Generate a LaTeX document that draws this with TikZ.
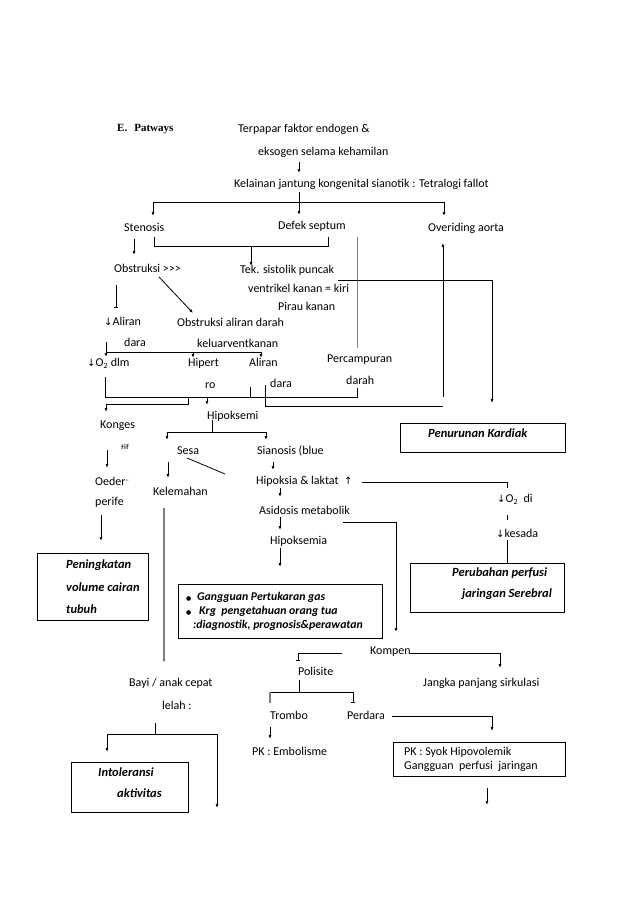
\documentclass[tikz,border=0pt]{standalone}
\usepackage{fontspec}
\setmainfont{Carlito}
\newfontfamily\symf{DejaVu Sans}
\newfontfamily\titlef{Liberation Serif}
\usetikzlibrary{arrows.meta}
\begin{document}
\begin{tikzpicture}[x=1pt,y=-1pt,
  txt/.style={anchor=west,inner sep=0pt,font=\fontsize{12}{13}\selectfont,text height=7.5pt,text depth=2pt},
  bx/.style={txt,font=\fontsize{12.5}{13}\selectfont\bfseries\itshape},
  gx/.style={txt,font=\fontsize{11.8}{13}\selectfont\bfseries\itshape},
  ln/.style={line width=0.8pt},
  ar/.style={ln,-{Latex[length=4pt,width=3pt]}},
  tee/.style={ln,-{Bar[width=4pt,line width=0.8pt]}},
  frame/.style={draw,line width=0.8pt,anchor=north west,inner sep=0pt}]
\useasboundingbox (0,0) rectangle (638,903);
\fill[white] (0,0) rectangle (638,903);
\newcommand{\dn}{{\symf\fontsize{10}{11}\selectfont ↓}}
% title
\node[txt,font=\titlef\bfseries\fontsize{11}{12}\selectfont] (title) at (117,129) {E.\hspace{7pt}Patways};
% texts
\node[txt] (n1) at (238,130) {Terpapar faktor endogen \&};
\node[txt] (n2) at (258,153) {eksogen selama kehamilan};
\node[txt] (n3) at (234,185) {Kelainan jantung kongenital sianotik : Tetralogi fallot};
\node[txt] (sten) at (124,229) {Stenosis};
\node[txt] (defek) at (278,227) {Defek septum};
\node[txt] (over) at (428,229) {Overiding aorta};
\node[txt] (obs) at (114,270) {Obstruksi >{}>{}>};
\node[txt] (tek) at (240,271) {Tek. sistolik puncak};
\node[txt] (vent) at (248,290) {ventrikel kanan = kiri};
\node[txt] (pirau) at (278,308) {Pirau kanan};
\node[txt] (aliran1) at (104,323) {\dn Aliran};
\node[txt] (dara1) at (124,344) {dara};
\node[txt] (obs2) at (177,324) {Obstruksi aliran darah};
\begin{scope}
\clip (190,330) rectangle (300,348.5);
\node[txt] (kel) at (197,345) {keluarventkanan};
\end{scope}
\node[txt] (o2) at (87,364) {\dn O\textsubscript{2} dlm};
\node[txt] (hipert) at (188,364) {Hipert};
\node[txt] (aliran2) at (249,364) {Aliran};
\node[txt] (perc) at (327,360) {Percampuran};
\node[txt] (ro) at (205,386) {ro};
\node[txt] (dara2) at (270,385) {dara};
\node[txt] (darah) at (346,382) {darah};
\node[txt] (hipoks) at (207,417) {Hipoksemi};
\node[txt] (konges) at (100,426) {Konges};
\begin{scope}
\clip (110,440) rectangle (140,448);
\node[txt,font=\fontsize{9}{9}\selectfont] (tif) at (121,448) {tif};
\end{scope}
\node[txt] (sesa) at (177,452) {Sesa};
\node[txt] (sian) at (257,452) {Sianosis (blue};
\node[txt] (oed) at (95,483) {Oeder\raisebox{3pt}{\fontsize{7}{7}\selectfont --}};
\node[txt] (perife) at (95,503) {perife};
\node[txt] (kelem) at (153,493) {Kelemahan};
\node[txt] (hipoksia) at (256,482) {Hipoksia \& laktat \ {\symf\fontsize{10}{11}\selectfont ↑}};
\node[txt] (asid) at (259,512) {Asidosis metabolik};
\node[txt] (hipoksemia) at (270,542) {Hipoksemia};
\node[txt] (o2di) at (497,500) {\dn O\textsubscript{2}\ \ di};
\node[txt] (kes) at (496,535) {\dn kesada};
\node[txt] (kompen) at (370,652) {Kompen};
\node[txt] (polisite) at (298,673) {Polisite};
\node[txt] (jangka) at (423,684) {Jangka panjang sirkulasi};
\node[txt] (bayi) at (129,684) {Bayi / anak cepat};
\node[txt] (lelah) at (162,707) {lelah :};
\node[txt] (trombo) at (270,717) {Trombo};
\node[txt] (perdara) at (347,717) {Perdara};
\node[txt] (pkemb) at (252,753) {PK : Embolisme};
% boxes
\node[frame,minimum width=165pt,minimum height=29pt] (bkard) at (400,423) {};
\node[bx] (kard) at (428,435) {Penurunan Kardiak};
\node[frame,minimum width=111pt,minimum height=67pt] (bcair) at (37,553) {};
\node[bx] (c1) at (66,566) {Peningkatan};
\node[bx] (c2) at (66,589) {volume cairan};
\node[bx] (c3) at (66,611) {tubuh};
\node[frame,minimum width=204pt,minimum height=54pt] (bgas) at (178,584) {};
\node[gx] (g0) at (186,598) {\symf\fontsize{6}{7}\selectfont ●};
\node[gx] (g1) at (197,598) {Gangguan Pertukaran gas};
\node[gx] (g00) at (186,612) {\symf\fontsize{6}{7}\selectfont ●};
\node[gx] (g2) at (199,612) {Krg\ \ pengetahuan orang tua};
\node[gx] (g3) at (193,626) {:diagnostik, prognosis\&perawatan};
\node[frame,minimum width=154pt,minimum height=49pt] (bser) at (410,563) {};
\node[bx] (s1) at (452,574) {Perubahan perfusi};
\node[bx] (s2) at (462,595) {jaringan Serebral};
\node[frame,minimum width=117pt,minimum height=50pt] (bint) at (71,762) {};
\node[bx] (i1) at (98,774) {Intoleransi};
\node[bx] (i2) at (117,795) {aktivitas};
\node[frame,minimum width=172pt,minimum height=34pt] (bsyok) at (393,742) {};
\node[txt] (k1) at (404,753) {PK : Syok Hipovolemik};
\node[txt] (k2) at (404,767) {Gangguan\ \ perfusi\ \ jaringan};
% connectors
\draw[ar] (299,162) -- (299,173);
\draw[ar] (299,192) -- (299,215);
\draw[ln] (153,202) -- (444,202);
\draw[ar] (153,202) -- (153,216);
\draw[ar] (444,202) -- (444,216);
\draw[ln] (154,237) -- (154,246) -- (328,246) -- (328,237);
\draw[ar] (251,246) -- (251,266);
\draw[ar] (134,239) -- (134,255);
\draw[ln,gray] (357,237) -- (357,348);
\draw[ln] (338,280) -- (492,280);
\draw[ar] (492,280) -- (492,403);
\draw[tee] (116,285) -- (116,308);
\draw[ar] (159,277) -- (193,313);
\draw[ar] (106,342) -- (106,357);
\draw[ln] (106,352) -- (261,352);
\draw[ar] (193,352) -- (193,358);
\draw[ar] (261,352) -- (261,358);
\draw[ln] (105,377) -- (105,397) -- (357,397) -- (357,388);
\draw[ln] (250,387) -- (250,397);
\draw[ln] (188,397) -- (188,404) -- (106,404);
\draw[ar] (106,404) -- (106,412);
\draw[ar] (207,397) -- (207,405);
\draw[ln] (265,385) -- (265,406) -- (443,406);
\draw[ar] (443,397) -- (443,243);
\draw[ln] (212,420) -- (212,432);
\draw[ln] (167,432) -- (266,432);
\draw[ar] (167,432) -- (167,440);
\draw[ar] (266,432) -- (266,440);
\draw[ar] (107,450) -- (107,468);
\draw[ln] (187,458) -- (225,474);
\draw[ar] (168,462) -- (168,478);
\draw[ar] (273,462) -- (273,470);
\draw[ar] (280,488) -- (280,497);
\draw[ar] (280,517) -- (280,530);
\draw[ar] (280,548) -- (280,567);
\draw[ln] (362,482) -- (507,482) -- (507,488);
\draw[ln] (507,515) -- (507,520);
\draw[ln] (507,540) -- (507,563);
\draw[ln] (343,522) -- (396,522);
\draw[ar] (396,522) -- (396,632);
\draw[ar] (101,515) -- (101,541);
\draw[ar,gray,line width=1.4pt] (164,508) -- (164,663);
\draw[ln] (410,653) -- (500,653);
\draw[ar] (500,653) -- (500,668);
\draw[ln] (342,653) -- (298,653);
\draw[tee] (298,653) -- (298,661);
\draw[ln] (299,680) -- (299,692);
\draw[ln] (270,692) -- (353,692);
\draw[ln,gray,line width=1.4pt] (270,692) -- (270,703);
\draw[tee] (353,692) -- (353,703);
\draw[ln] (392,716) -- (492,716);
\draw[ar] (492,716) -- (492,731);
\draw[ar] (270,727) -- (270,739);
\draw[ln] (155,723) -- (155,734);
\draw[ln] (107,734) -- (217,734);
\draw[ar] (107,734) -- (107,752);
\draw[ar] (217,734) -- (217,808);
\draw[ar] (487,788) -- (487,805);
\end{tikzpicture}
\end{document}
